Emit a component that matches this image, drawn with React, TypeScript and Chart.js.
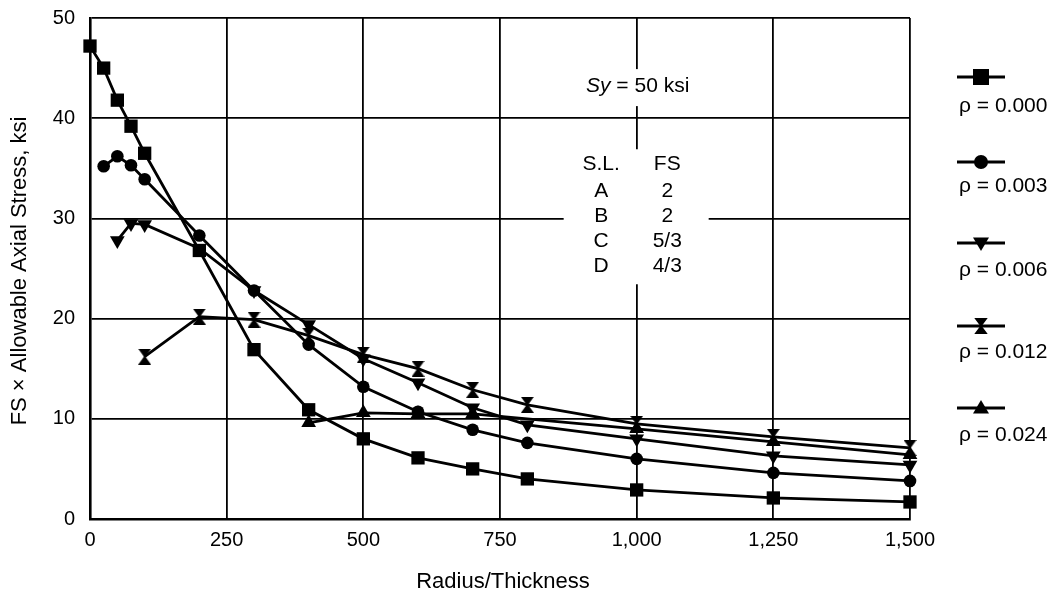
import React, { useEffect, useRef } from 'react';
import { Chart, registerables } from 'chart.js';

Chart.register(...registerables);

// ---- Data ----
const radiusThickness = [0, 25, 50, 75, 100, 200, 300, 400, 500, 600, 700, 800, 1000, 1250, 1500];
const rho000 = [47.2, 45.0, 41.8, 39.2, 36.5, 26.8, 16.9, 10.9, 8.0, 6.1, 5.0, 4.0, 2.9, 2.1, 1.7];
const rho003 = [null, 35.2, 36.2, 35.3, 33.9, 28.3, 22.8, 17.4, 13.2, 10.7, 8.9, 7.6, 6.0, 4.6, 3.8];
const rho006 = [null, null, 27.8, 29.5, 29.4, 27.0, 22.8, 19.4, 16.0, 13.6, 11.1, 9.4, 8.0, 6.3, 5.4];
const rho012 = [null, null, null, null, 16.2, 20.2, 19.9, 18.3, 16.4, 15.0, 12.9, 11.4, 9.5, 8.2, 7.1];
const rho024 = [null, null, null, null, null, null, null, 9.6, 10.6, 10.5, 10.5, null, 9.0, 7.7, 6.4];

const seriesLabels = ['ρ = 0.000', 'ρ = 0.003', 'ρ = 0.006', 'ρ = 0.012', 'ρ = 0.024'];
const xTickLabels = ['0', '250', '500', '750', '1,000', '1,250', '1,500'];
const yTickValues = [0, 10, 20, 30, 40, 50];

const slColumn = ['S.L.', 'A', 'B', 'C', 'D'];
const fsColumn = ['FS', '2', '2', '5/3', '4/3'];

const FONT = '"Liberation Sans", Arial, Helvetica, sans-serif';

function toPoints(values: (number | null)[]) {
  const pts: { x: number; y: number }[] = [];
  values.forEach((v, i) => {
    if (v !== null) pts.push({ x: radiusThickness[i], y: v });
  });
  return pts;
}

function makeHourglass(w: number, h: number) {
  const c = document.createElement('canvas');
  c.width = w;
  c.height = h;
  const g = c.getContext('2d')!;
  g.fillStyle = '#000';
  g.beginPath();
  g.moveTo(0, 0);
  g.lineTo(w, 0);
  g.lineTo(w / 2, h / 2 + 1);
  g.closePath();
  g.fill();
  g.beginPath();
  g.moveTo(0, h);
  g.lineTo(w, h);
  g.lineTo(w / 2, h / 2 - 1);
  g.closePath();
  g.fill();
  return c;
}

type Shape = 'square' | 'circle' | 'tdown' | 'hourglass' | 'tup';
const shapes: Shape[] = ['square', 'circle', 'tdown', 'hourglass', 'tup'];

function drawShape(ctx: CanvasRenderingContext2D, shape: Shape, x: number, y: number, s: number) {
  ctx.beginPath();
  if (shape === 'square') {
    ctx.rect(x - s / 2, y - s / 2, s, s);
  } else if (shape === 'circle') {
    ctx.arc(x, y, s / 2, 0, Math.PI * 2);
  } else if (shape === 'tdown') {
    ctx.moveTo(x - s / 2, y - s * 0.35);
    ctx.lineTo(x + s / 2, y - s * 0.35);
    ctx.lineTo(x, y + s * 0.5);
    ctx.closePath();
  } else if (shape === 'tup') {
    ctx.moveTo(x - s / 2, y + s * 0.35);
    ctx.lineTo(x + s / 2, y + s * 0.35);
    ctx.lineTo(x, y - s * 0.5);
    ctx.closePath();
  } else {
    ctx.moveTo(x - s * 0.42, y - s / 2);
    ctx.lineTo(x + s * 0.42, y - s / 2);
    ctx.lineTo(x, y + 1);
    ctx.closePath();
    ctx.moveTo(x - s * 0.42, y + s / 2);
    ctx.lineTo(x + s * 0.42, y + s / 2);
    ctx.lineTo(x, y - 1);
    ctx.closePath();
  }
  ctx.fill();
}

const legendRows = [
  { line: 77, text: 106 },
  { line: 162, text: 186 },
  { line: 243, text: 270 },
  { line: 326, text: 352 },
  { line: 408, text: 435 },
];

const overlayPlugin = {
  id: 'overlay',
  beforeDatasetsDraw(chart: any) {
    const ctx: CanvasRenderingContext2D = chart.ctx;
    const xs = chart.scales.x;
    const ys = chart.scales.y;
    const cx = xs.getPixelForValue(1000);
    ctx.save();
    ctx.fillStyle = '#fff';
    // gaps in the grid behind the annotation texts
    ctx.fillRect(cx - 62, ys.getPixelForValue(44.9), 124, 37);
    ctx.fillRect(cx - 73, ys.getPixelForValue(36.9), 145, 135);
    ctx.restore();
  },
  afterDraw(chart: any) {
    const ctx: CanvasRenderingContext2D = chart.ctx;
    const xs = chart.scales.x;
    const ys = chart.scales.y;
    ctx.save();
    ctx.fillStyle = '#000';
    ctx.strokeStyle = '#000';
    ctx.textBaseline = 'middle';

    // Sy = 50 ksi
    const cx = xs.getPixelForValue(1000) + 1;
    const syY = ys.getPixelForValue(43.2);
    ctx.font = `italic 21px ${FONT}`;
    const w1 = ctx.measureText('Sy').width;
    ctx.font = `21px ${FONT}`;
    const w2 = ctx.measureText(' = 50 ksi').width;
    const sx = cx - (w1 + w2) / 2;
    ctx.textAlign = 'left';
    ctx.font = `italic 21px ${FONT}`;
    ctx.fillText('Sy', sx, syY);
    ctx.font = `21px ${FONT}`;
    ctx.fillText(' = 50 ksi', sx + w1, syY);

    // S.L. / FS table
    ctx.textAlign = 'center';
    const rowVals = [35.4, 32.7, 30.2, 27.7, 25.2];
    const slX = xs.getPixelForValue(935);
    const fsX = xs.getPixelForValue(1056);
    slColumn.forEach((t, i) => {
      const yy = ys.getPixelForValue(rowVals[i]);
      ctx.fillText(t, slX, yy);
      ctx.fillText(fsColumn[i], fsX, yy);
    });

    // axis titles
    ctx.font = `22px ${FONT}`;
    ctx.fillText('Radius/Thickness', 503, 582);
    ctx.save();
    ctx.translate(20, 271);
    ctx.rotate(-Math.PI / 2);
    ctx.fillText('FS × Allowable Axial Stress, ksi', 0, 0);
    ctx.restore();

    // legend
    ctx.textAlign = 'left';
    legendRows.forEach((r, i) => {
      ctx.lineWidth = 3.2;
      ctx.beginPath();
      ctx.moveTo(957, r.line);
      ctx.lineTo(1005, r.line);
      ctx.stroke();
      drawShape(ctx, shapes[i], 981, r.line, i === 1 ? 14 : 16);
      ctx.font = `21px ${FONT}`;
      ctx.fillText(seriesLabels[i], 959, r.text);
    });
    ctx.restore();
  },
};

export default function App() {
  const ref = useRef<HTMLCanvasElement>(null);
  useEffect(() => {
    if (!ref.current) return;
    const hour = makeHourglass(13, 16);
    const common = {
      borderColor: '#000',
      backgroundColor: '#000',
      pointBackgroundColor: '#000',
      pointBorderColor: '#000',
      pointBorderWidth: 0,
      borderWidth: 2.8,
      tension: 0,
      clip: false as any,
      spanGaps: true,
    };
    const chart = new Chart(ref.current, {
      type: 'line',
      data: {
        datasets: [
          { ...common, label: seriesLabels[0], data: toPoints(rho000), pointStyle: 'rect', pointRadius: 9.4 },
          { ...common, label: seriesLabels[1], data: toPoints(rho003), pointStyle: 'circle', pointRadius: 6.3 },
          { ...common, label: seriesLabels[2], data: toPoints(rho006), pointStyle: 'triangle', pointRotation: 180, pointRadius: 8.5 },
          { ...common, label: seriesLabels[3], data: toPoints(rho012), pointStyle: hour as any, pointRadius: 8 },
          { ...common, label: seriesLabels[4], data: toPoints(rho024), pointStyle: 'triangle', pointRadius: 8.5 },
        ] as any,
      },
      options: {
        animation: false,
        responsive: false,
        devicePixelRatio: 1,
        layout: { padding: { left: 0, top: 18, right: 145, bottom: 0 } },
        plugins: { legend: { display: false }, tooltip: { enabled: false } },
        elements: { point: { hoverRadius: 0 } },
        scales: {
          x: {
            type: 'linear',
            min: 0,
            max: 1500,
            afterBuildTicks: (s: any) => {
              s.ticks = xTickLabels.map((_, i) => ({ value: i * 250 }));
            },
            afterFit: (s: any) => {
              s.height = 79;
              s.paddingLeft = 0;
              s.paddingRight = 0;
            },
            ticks: {
              autoSkip: false,
              maxRotation: 0,
              padding: 9,
              color: '#000',
              font: { family: FONT, size: 20 },
              callback: (v: any) => xTickLabels[Math.round(Number(v) / 250)],
            },
            grid: { color: '#000', lineWidth: 1.8, drawTicks: false },
            border: { color: '#000', width: 2.6 },
          },
          y: {
            type: 'linear',
            min: 0,
            max: 50,
            afterBuildTicks: (s: any) => {
              s.ticks = yTickValues.map((v) => ({ value: v }));
            },
            afterFit: (s: any) => {
              s.width = 90;
              s.paddingTop = 0;
              s.paddingBottom = 0;
            },
            ticks: {
              padding: 15,
              color: '#000',
              font: { family: FONT, size: 20 },
            },
            grid: { color: '#000', lineWidth: 1.8, drawTicks: false },
            border: { color: '#000', width: 2.6 },
          },
        },
      } as any,
      plugins: [overlayPlugin],
    });
    return () => chart.destroy();
  }, []);
  return (
    <div style={{ position: 'absolute', left: 0, top: 0, width: 1055, height: 598, background: '#fff' }}>
      <canvas ref={ref} width={1055} height={598} style={{ width: 1055, height: 598, display: 'block' }} />
    </div>
  );
}
